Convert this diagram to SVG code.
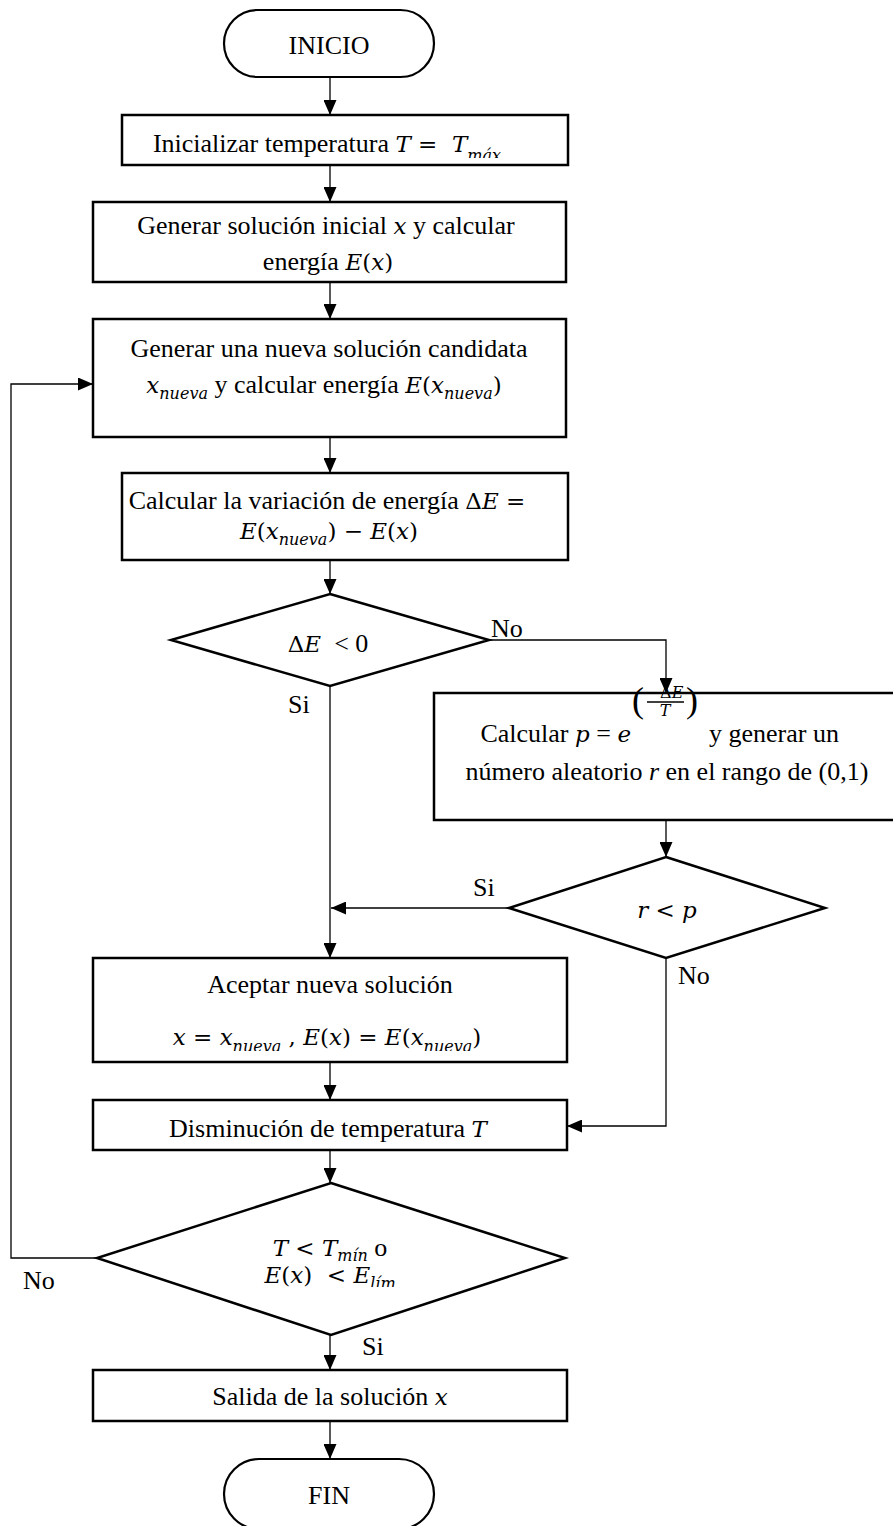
<svg xmlns="http://www.w3.org/2000/svg" width="893" height="1526" viewBox="0 0 893 1526">
<style>
.box{fill:#fff;stroke:#000;stroke-width:2.5}
.term{fill:#fff;stroke:#000;stroke-width:2.2}
.con{fill:none;stroke:#000;stroke-width:1.3}
.t{font-family:"Liberation Serif","Times New Roman",serif;font-size:26px;fill:#000}
.m{font-family:"DejaVu Serif",serif;font-style:italic;font-size:23px}
.mu{font-family:"DejaVu Serif",serif;font-style:normal;font-size:23px}
.ti{font-family:"Liberation Serif",serif;font-style:italic}
.s{font-size:16px}
.f{font-size:16px}
.lbl{font-family:"Liberation Serif","Times New Roman",serif;font-size:26px;fill:#000}
</style>
<defs>
<marker id="ah" markerUnits="userSpaceOnUse" markerWidth="15" markerHeight="13" refX="15" refY="6.5" orient="auto">
<path d="M0,0 L15,6.5 L0,13 z" fill="#000"/>
</marker>
<clipPath id="c1"><rect x="93" y="115" width="480" height="43"/></clipPath>
<clipPath id="cAcc"><rect x="93" y="958" width="480" height="93"/></clipPath>
<clipPath id="cD3"><rect x="90" y="1183" width="480" height="104"/></clipPath>
</defs>

<g id="inicio">
<rect class="term" x="224" y="10" width="210" height="67" rx="33.5" ry="33.5"/>
<text class="t" x="329" y="54" text-anchor="middle">INICIO</text>
</g>

<g id="init-temp">
<rect class="box" x="122" y="115" width="446" height="50"/>
<text class="t" x="327" y="152" text-anchor="middle" clip-path="url(#c1)">Inicializar temperatura <tspan class="m">T</tspan><tspan class="mu"> =&#160; </tspan><tspan class="m">T</tspan><tspan class="m s" dy="9">máx</tspan></text>
</g>

<g id="gen-inicial">
<rect class="box" x="93" y="202" width="473" height="80"/>
<text class="t" x="326" y="234" text-anchor="middle">Generar solución inicial <tspan class="m">x</tspan> y calcular</text>
<text class="t" x="328" y="270" text-anchor="middle">energía <tspan class="m">E</tspan><tspan class="mu">(</tspan><tspan class="m">x</tspan><tspan class="mu">)</tspan></text>
</g>

<g id="gen-nueva">
<rect class="box" x="93" y="319" width="473" height="118"/>
<text class="t" x="329" y="357" text-anchor="middle">Generar una nueva solución candidata</text>
<text class="t" x="324" y="393" text-anchor="middle"><tspan class="m">x</tspan><tspan class="m s" dy="6">nueva</tspan><tspan dy="-6"> y calcular energía </tspan><tspan class="m">E</tspan><tspan class="mu">(</tspan><tspan class="m">x</tspan><tspan class="m s" dy="6">nueva</tspan><tspan class="mu" dy="-6">)</tspan></text>
</g>

<g id="variacion">
<rect class="box" x="122" y="473" width="446" height="87"/>
<text class="t" x="327" y="509" text-anchor="middle">Calcular la variación de energía <tspan class="mu">Δ</tspan><tspan class="m">E</tspan><tspan class="mu"> =</tspan></text>
<text class="t" x="329" y="539" text-anchor="middle"><tspan class="m">E</tspan><tspan class="mu">(</tspan><tspan class="m">x</tspan><tspan class="m s" dy="6">nueva</tspan><tspan class="mu" dy="-6">) − </tspan><tspan class="m">E</tspan><tspan class="mu">(</tspan><tspan class="m">x</tspan><tspan class="mu">)</tspan></text>
</g>

<g id="dec-deltaE">
<polygon class="box" points="330,594 489,640 330,686 171,640"/>
<text class="t" x="328" y="652" text-anchor="middle"><tspan class="mu">Δ</tspan><tspan class="m">E</tspan>&#160; &lt; 0</text>
</g>

<g id="calc-p">
<rect class="box" x="434" y="693" width="464" height="127"/>
<text class="t" x="631" y="742" text-anchor="end">Calcular <tspan class="m">p</tspan> = <tspan class="m">e</tspan></text>
<text class="t" x="632" y="712" style="font-size:36px">(</text>
<text class="mu f" x="665" y="698" text-anchor="middle">−Δ<tspan class="m f">E</tspan></text>
<line x1="647" y1="702" x2="684" y2="702" stroke="#000" stroke-width="1.3"/>
<text class="m f" x="665" y="716" text-anchor="middle">T</text>
<text class="t" x="686" y="712" style="font-size:36px">)</text>
<text class="t" x="709" y="742">y generar un</text>
<text class="t" x="667" y="780" text-anchor="middle">número aleatorio <tspan class="ti">r</tspan> en el rango de (0,1)</text>
</g>

<g id="dec-rp">
<polygon class="box" points="666,857 825,908 666,958 509,908"/>
<text class="t" x="667" y="918" text-anchor="middle"><tspan class="m">r</tspan><tspan class="mu"> &lt; </tspan><tspan class="m">p</tspan></text>
</g>

<g id="aceptar">
<rect class="box" x="93" y="958" width="474" height="104"/>
<text class="t" x="330" y="993" text-anchor="middle">Aceptar nueva solución</text>
<text class="t" x="327" y="1045" text-anchor="middle" clip-path="url(#cAcc)"><tspan class="m">x</tspan><tspan class="mu"> = </tspan><tspan class="m">x</tspan><tspan class="m s" dy="7">nueva</tspan><tspan class="mu" dy="-7"> , </tspan><tspan class="m">E</tspan><tspan class="mu">(</tspan><tspan class="m">x</tspan><tspan class="mu">) = </tspan><tspan class="m">E</tspan><tspan class="mu">(</tspan><tspan class="m">x</tspan><tspan class="m s" dy="7">nueva</tspan><tspan class="mu" dy="-7">)</tspan></text>
</g>

<g id="disminucion">
<rect class="box" x="93" y="1100" width="474" height="50"/>
<text class="t" x="328" y="1137" text-anchor="middle">Disminución de temperatura <tspan class="m">T</tspan></text>
</g>

<g id="dec-fin">
<polygon class="box" points="331,1183 565,1258 331,1335 97,1258"/>
<text class="t" x="330" y="1256" text-anchor="middle"><tspan class="m">T</tspan><tspan class="mu"> &lt; </tspan><tspan class="m">T</tspan><tspan class="m s" dy="5">mín</tspan><tspan dy="-5"> o</tspan></text>
<text class="t" x="330" y="1283" text-anchor="middle" clip-path="url(#cD3)"><tspan class="m">E</tspan><tspan class="mu">(</tspan><tspan class="m">x</tspan><tspan class="mu">)&#160; &lt; </tspan><tspan class="m">E</tspan><tspan class="m s" dy="6">lím</tspan></text>
</g>

<g id="salida">
<rect class="box" x="93" y="1370" width="474" height="51"/>
<text class="t" x="330" y="1405" text-anchor="middle">Salida de la solución <tspan class="m">x</tspan></text>
</g>

<g id="fin">
<rect class="term" x="224" y="1459" width="210" height="70" rx="35" ry="35"/>
<text class="t" x="329" y="1504" text-anchor="middle">FIN</text>
</g>

<g id="connectors">
<path class="con" d="M330,77 V115" marker-end="url(#ah)"/>
<path class="con" d="M330,165 V202" marker-end="url(#ah)"/>
<path class="con" d="M330,282 V319" marker-end="url(#ah)"/>
<path class="con" d="M330,437 V473" marker-end="url(#ah)"/>
<path class="con" d="M330,560 V594" marker-end="url(#ah)"/>
<path class="con" d="M489,640 H666 V693" marker-end="url(#ah)"/>
<path class="con" d="M330,686 V958" marker-end="url(#ah)"/>
<path class="con" d="M509,908 H331" marker-end="url(#ah)"/>
<path class="con" d="M666,820 V857" marker-end="url(#ah)"/>
<path class="con" d="M666,958 V1126 H567" marker-end="url(#ah)"/>
<path class="con" d="M330,1062 V1100" marker-end="url(#ah)"/>
<path class="con" d="M330,1150 V1183" marker-end="url(#ah)"/>
<path class="con" d="M97,1258 H11 V384 H93" marker-end="url(#ah)"/>
<path class="con" d="M330,1335 V1370" marker-end="url(#ah)"/>
<path class="con" d="M330,1421 V1459" marker-end="url(#ah)"/>
<text class="lbl" x="491" y="637">No</text>
<text class="lbl" x="288" y="713">Si</text>
<text class="lbl" x="473" y="896">Si</text>
<text class="lbl" x="678" y="984">No</text>
<text class="lbl" x="23" y="1289">No</text>
<text class="lbl" x="362" y="1355">Si</text>
</g>
</svg>
